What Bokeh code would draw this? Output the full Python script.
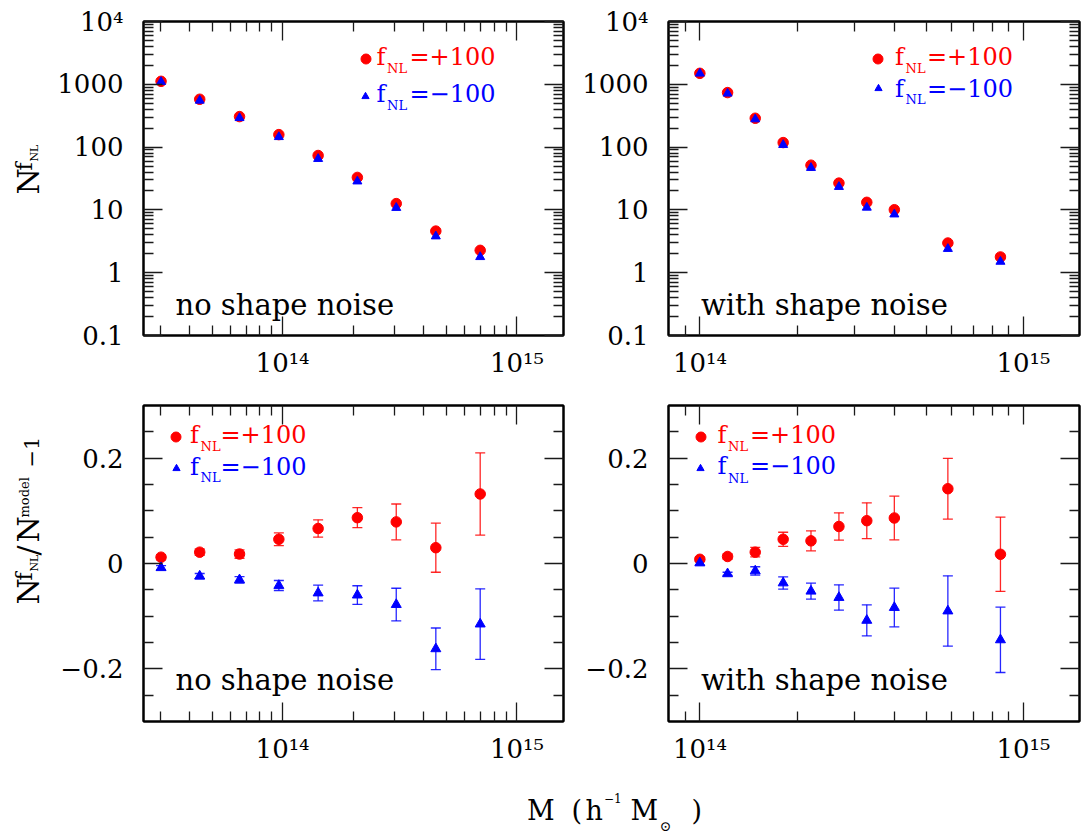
import math
from bokeh.plotting import figure
from bokeh.models import (ColumnDataSource, FixedTicker, LogAxis, LinearAxis, Label,
                          Legend, LegendItem, Whisker, TeeHead, Range1d)
from bokeh.layouts import row, column
from bokeh.embed import file_html
from bokeh.resources import INLINE
from bokeh.core.properties import value

FONT = "DejaVu Serif"
RED = "#ff0000"
BLUE = "#0000ff"

# ---------------- data ----------------
# no shape noise
mass_nosn = [3.03e13, 4.43e13, 6.55e13, 9.64e13, 1.418e14, 2.085e14, 3.055e14, 4.507e14, 6.97e14]
n_plus_nosn = [1116, 578, 306, 158, 73.5, 32.9, 12.6, 4.6, 2.27]
n_minus_nosn = [1094, 551, 291, 145, 65, 28.5, 10.8, 3.8, 1.78]
ratio_plus_nosn = [0.012, 0.0215, 0.018, 0.046, 0.0665, 0.087, 0.079, 0.030, 0.132]
err_plus_nosn = [0.005, 0.006, 0.008, 0.012, 0.0165, 0.019, 0.034, 0.0466, 0.078]
ratio_minus_nosn = [-0.008, -0.024, -0.031, -0.0418, -0.056, -0.060, -0.078, -0.162, -0.115]
err_minus_nosn = [0.004, 0.005, 0.006, 0.0095, 0.0148, 0.0178, 0.031, 0.0395, 0.067]

# with shape noise
mass_sn = [1.0e14, 1.218e14, 1.483e14, 1.809e14, 2.205e14, 2.69e14, 3.28e14, 3.99e14, 5.84e14, 8.49e14]
n_plus_sn = [1496, 738, 288, 118, 51.5, 26.7, 13.2, 10.07, 2.97, 1.78]
n_minus_sn = [1486, 714, 278, 108.6, 46.8, 23.3, 10.9, 8.5, 2.4, 1.5]
ratio_plus_sn = [0.008, 0.0133, 0.0215, 0.046, 0.043, 0.0703, 0.0813, 0.0864, 0.142, 0.0175]
err_plus_sn = [0.004, 0.005, 0.009, 0.0133, 0.019, 0.026, 0.034, 0.0414, 0.0576, 0.0706]
ratio_minus_sn = [0.001, -0.0196, -0.0142, -0.037, -0.0526, -0.0646, -0.108, -0.0836, -0.0902, -0.145]
err_minus_sn = [0.004, 0.003, 0.008, 0.0117, 0.0152, 0.0241, 0.0295, 0.0367, 0.0668, 0.062]

# ticks / tick labels
x_major = [1e14, 1e15]
x_labels = {1e14: "10¹⁴", 1e15: "10¹⁵"}
y_top_major = [0.1, 1.0, 10.0, 100.0, 1000.0, 1e4]
y_top_labels = {0.1: "0.1", 1.0: "1", 10.0: "10", 100.0: "100", 1000.0: "1000", 1e4: "10⁴"}
y_bot_major = [-0.2, 0.0, 0.2]
y_bot_labels = {-0.2: "−0.2", 0.0: "0", 0.2: "0.2"}
y_bot_minor = [-0.25, -0.15, -0.1, -0.05, 0.05, 0.1, 0.15, 0.25]

xr_left = (2.55e13, 1.58e15)
xr_right = (8e13, 1.49e15)
yr_top = (0.1, 1e4)
yr_bot = (-0.3, 0.3)


def log_minor(lo, hi):
    out = []
    for d in range(int(math.floor(math.log10(lo))), int(math.ceil(math.log10(hi))) + 1):
        for k in range(2, 10):
            v = k * 10.0 ** d
            if lo < v < hi:
                out.append(v)
    return out


def style_axis(ax, ticker, labels, standoff=0):
    ax.ticker = ticker
    ax.axis_line_color = "black"
    ax.axis_line_width = 2
    ax.major_tick_in = 19
    ax.major_tick_out = 0
    ax.minor_tick_in = 10
    ax.minor_tick_out = 0
    ax.major_tick_line_color = "#1a1a1a"
    ax.minor_tick_line_color = "#1a1a1a"
    ax.major_tick_line_width = 1.3
    ax.minor_tick_line_width = 1.3
    if labels is None:
        ax.major_label_text_font_size = "0px"
        ax.major_label_text_color = None
        ax.major_label_standoff = 0
    else:
        ax.major_label_overrides = labels
        ax.major_label_text_font = FONT
        ax.major_label_text_font_size = "26px"
        ax.major_label_text_color = "black"
        ax.major_label_standoff = standoff


def make_panel(width, height, xr, yr, ylog, mbl, mbr, mbt, mbb):
    p = figure(width=width, height=height,
               x_axis_type="log", y_axis_type="log" if ylog else "linear",
               x_range=Range1d(*xr), y_range=Range1d(*yr),
               output_backend="svg", toolbar_location=None,
               min_border_left=mbl, min_border_right=mbr,
               min_border_top=mbt, min_border_bottom=mbb)
    p.grid.visible = False
    p.outline_line_color = "black"
    p.outline_line_width = 2
    p.background_fill_color = "white"
    p.border_fill_color = "white"

    xt = FixedTicker(ticks=x_major, minor_ticks=log_minor(*xr))
    if ylog:
        yt = FixedTicker(ticks=y_top_major, minor_ticks=log_minor(*yr))
        ylab = y_top_labels
        right_axis = LogAxis()
    else:
        yt = FixedTicker(ticks=y_bot_major, minor_ticks=y_bot_minor)
        ylab = y_bot_labels
        right_axis = LinearAxis()
    top_axis = LogAxis()
    style_axis(p.xaxis[0], xt, x_labels, standoff=12)
    style_axis(p.yaxis[0], yt, ylab, standoff=20)
    style_axis(top_axis, FixedTicker(ticks=x_major, minor_ticks=log_minor(*xr)), None)
    style_axis(right_axis, FixedTicker(ticks=yt.ticks, minor_ticks=yt.minor_ticks), None)
    p.add_layout(top_axis, "above")
    p.add_layout(right_axis, "right")
    return p


def strip(width, height):
    q = figure(width=width, height=height, x_axis_type=None, y_axis_type=None,
               x_range=Range1d(0, 1), y_range=Range1d(0, 1),
               output_backend="svg", toolbar_location=None, min_border=0)
    q.outline_line_color = None
    q.background_fill_color = "white"
    q.border_fill_color = "white"
    q.grid.visible = False
    return q


MID = 0.346  # distance (in em) from the alphabetic baseline to the text box middle


def txt(p, fl, fb, px, py, s, size, color="black", angle=0.0):
    """(px, py): page position of the start of the alphabetic baseline."""
    if angle == 0.0:
        ax_, ay_ = px, py - MID * size
    else:  # rotated 90 deg ccw: glyphs grow towards -x
        ax_, ay_ = px - MID * size, py
    p.add_layout(Label(x=ax_ - fl, y=fb - ay_, x_units="screen", y_units="screen", text=s,
                       text_font=FONT, text_font_size=f"{size}px", text_color=color,
                       angle=angle, text_align="left", text_baseline="middle"))


def legend_marker(p, fl, fb, renderer, cx, cy, marker_px):
    box = int(round(marker_px / 0.4))
    leg = Legend(items=[LegendItem(label=value(" "), renderers=[renderer])],
                 location=(cx - fl - box / 2.0, fb - cy - box / 2.0),
                 glyph_width=box, glyph_height=box, label_width=0, label_height=box,
                 label_standoff=0, padding=0, margin=0, spacing=0,
                 border_line_color=None, background_fill_color=None,
                 label_text_font_size="1px")
    p.add_layout(leg)


def legend_text(p, fl, fb, fx, base1, base2, eqx, sub_dy1, sub_dy2):
    for base, sdy, col, s in ((base1, sub_dy1, RED, "=+100"), (base2, sub_dy2, BLUE, "=−100")):
        txt(p, fl, fb, fx, base, "f", 24, col)
        txt(p, fl, fb, fx + 10.5, base + sdy, "NL", 13, col)
        txt(p, fl, fb, eqx, base, s, 24, col)


# ---------------- layout geometry (page pixels, origin top-left) ----------------
# p1: frame 143..563 x 21..335 ; p2: frame 668..1079 x 21..335
# p3: frame 143..563 x 405..721 ; p4: frame 668..1079 x 405..721
STRIP = 52
q1 = strip(STRIP, 385)
q3 = strip(STRIP, 390)
p1 = make_panel(570 - STRIP, 385, xr_left, yr_top, True, 143 - STRIP, 7, 21, 50)
p2 = make_panel(511, 385, xr_right, yr_top, True, 98, 2, 21, 50)
p3 = make_panel(570 - STRIP, 390, xr_left, yr_bot, False, 143 - STRIP, 7, 20, 54)
p4 = make_panel(511, 390, xr_right, yr_bot, False, 98, 2, 20, 54)

# ---- top panels: counts
rend = {}
for key, p, m, npl, nmi in (("p1", p1, mass_nosn, n_plus_nosn, n_minus_nosn),
                            ("p2", p2, mass_sn, n_plus_sn, n_minus_sn)):
    rc = p.scatter(m, npl, marker="circle", size=10.5, fill_color=RED, line_color=RED)
    rt = p.scatter(m, nmi, marker="triangle", size=9, fill_color=BLUE, line_color=BLUE)
    rend[key] = (rc, rt)

# ---- bottom panels: ratios with error bars
for key, p, m, rp, ep, rm, em in (("p3", p3, mass_nosn, ratio_plus_nosn, err_plus_nosn, ratio_minus_nosn, err_minus_nosn),
                                  ("p4", p4, mass_sn, ratio_plus_sn, err_plus_sn, ratio_minus_sn, err_minus_sn)):
    for r, e, col in ((rp, ep, RED), (rm, em, BLUE)):
        src = ColumnDataSource(dict(x=m, y=r, upper=[a + b for a, b in zip(r, e)],
                                    lower=[a - b for a, b in zip(r, e)]))
        w = Whisker(source=src, base="x", upper="upper", lower="lower",
                    line_color=col, line_width=1.3, line_alpha=0.85, level="underlay",
                    upper_head=TeeHead(size=10, line_color=col, line_width=1.3, line_alpha=0.85),
                    lower_head=TeeHead(size=10, line_color=col, line_width=1.3, line_alpha=0.85))
        p.add_layout(w)
    rc = p.scatter(m, rp, marker="circle", size=10.5, fill_color=RED, line_color=RED)
    rt = p.scatter(m, rm, marker="triangle", size=10, fill_color=BLUE, line_color=BLUE)
    rend[key] = (rc, rt)

# ---- legends
legend_marker(p1, 143, 335, rend["p1"][0], 365, 58.3, 10)
legend_marker(p1, 143, 335, rend["p1"][1], 365, 96, 7.2)
legend_text(p1, 143, 335, 376, 65, 101.7, 409, 7.7, 8.0)

legend_marker(p2, 668, 335, rend["p2"][0], 877.7, 58.3, 10)
legend_marker(p2, 668, 335, rend["p2"][1], 877.7, 88.3, 7.2)
legend_text(p2, 668, 335, 894.5, 65, 96.7, 926.5, 7.7, 6.6)

legend_marker(p3, 143, 721, rend["p3"][0], 175.7, 436.7, 10)
legend_marker(p3, 143, 721, rend["p3"][1], 175.7, 468.3, 7.2)
legend_text(p3, 143, 721, 189.5, 443.3, 475, 220, 6.7, 6.7)

legend_marker(p4, 668, 721, rend["p4"][0], 700, 436.7, 10)
legend_marker(p4, 668, 721, rend["p4"][1], 700, 467.7, 7.2)
legend_text(p4, 668, 721, 717, 443.3, 474, 749.5, 6.7, 8.0)

# ---- panel annotations
txt(p1, 143, 335, 175, 314.3, "no shape noise", 29)
txt(p3, 143, 721, 175, 690, "no shape noise", 29)
txt(p2, 668, 335, 700.5, 314.3, "with shape noise", 29)
txt(p4, 668, 721, 700.5, 690, "with shape noise", 29)

# ---- y axis labels (rotated), drawn in left strips
# (the strips' frames are aligned with the neighbouring panel frames by the row layout)
A = math.pi / 2
FB1, FB3 = 335, 721
txt(q1, 0, FB1, 38, 194, "N", 30, angle=A)
txt(q1, 0, FB1, 32, 170, "f", 22, angle=A)
txt(q1, 0, FB1, 38, 161, "NL", 11, angle=A)

txt(q3, 0, FB3, 38, 604, "N", 30, angle=A)
txt(q3, 0, FB3, 32, 580, "f", 22, angle=A)
txt(q3, 0, FB3, 38, 571, "NL", 11, angle=A)
txt(q3, 0, FB3, 38, 555, "/", 30, angle=A)
txt(q3, 0, FB3, 38, 542, "N", 30, angle=A)
txt(q3, 0, FB3, 28, 517, "model", 13, angle=A)
txt(q3, 0, FB3, 38, 467, "−1", 21, angle=A)

# ---- x axis label in its own strip
p5 = strip(1081, 60)
FB5 = 835
txt(p5, 0, FB5, 526.5, 819.3, "M", 27)
txt(p5, 0, FB5, 571, 819.3, "(", 27)
txt(p5, 0, FB5, 585, 819.3, "h", 27)
txt(p5, 0, FB5, 603.5, 801.7, "−1", 12)
txt(p5, 0, FB5, 630, 819.3, "M", 27)
txt(p5, 0, FB5, 659, 830.5, "⊙", 14)
txt(p5, 0, FB5, 691, 819.3, ")", 27)

layout = column(row(q1, p1, p2), row(q3, p3, p4), p5)
open("out.html", "w").write(file_html(layout, INLINE))
